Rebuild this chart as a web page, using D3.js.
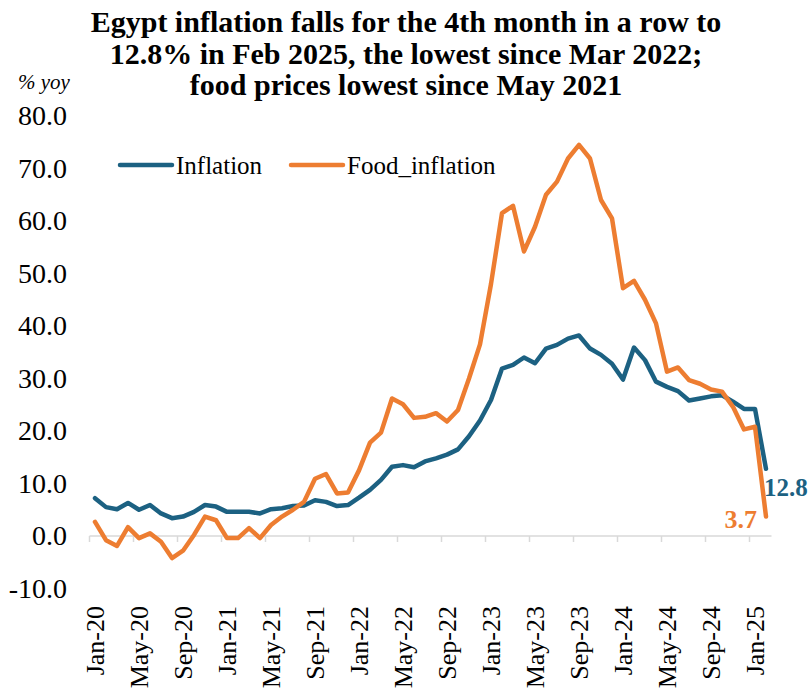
<!DOCTYPE html>
<html>
<head>
  <meta charset="UTF-8">
  <title>Egypt inflation</title>
  <script src="https://d3js.org/d3.v7.min.js"></script>
  <style>
    body {
      margin: 0;
      background: #fff;
      font-family: "Liberation Serif", "Times New Roman", serif;
    }
    .y-axis text {
      font-family: "Liberation Serif", "Times New Roman", serif;
      font-size: 28px;
      fill: #000;
    }
    .x-axis text {
      font-family: "Liberation Serif", "Times New Roman", serif;
      font-size: 26px;
      fill: #000;
    }
    .series {
      fill: none;
      stroke-width: 4.5;
      stroke-linejoin: round;
      stroke-linecap: round;
    }
  </style>
</head>
<body>
  <div id="chart"></div>
  <script>
    const months = [
      "Jan-20", "Feb-20", "Mar-20", "Apr-20", "May-20", "Jun-20", "Jul-20", "Aug-20", "Sep-20", "Oct-20", "Nov-20", "Dec-20",
      "Jan-21", "Feb-21", "Mar-21", "Apr-21", "May-21", "Jun-21", "Jul-21", "Aug-21", "Sep-21", "Oct-21", "Nov-21", "Dec-21",
      "Jan-22", "Feb-22", "Mar-22", "Apr-22", "May-22", "Jun-22", "Jul-22", "Aug-22", "Sep-22", "Oct-22", "Nov-22", "Dec-22",
      "Jan-23", "Feb-23", "Mar-23", "Apr-23", "May-23", "Jun-23", "Jul-23", "Aug-23", "Sep-23", "Oct-23", "Nov-23", "Dec-23",
      "Jan-24", "Feb-24", "Mar-24", "Apr-24", "May-24", "Jun-24", "Jul-24", "Aug-24", "Sep-24", "Oct-24", "Nov-24", "Dec-24",
      "Jan-25", "Feb-25"
    ];

    const inflation = [
      7.2, 5.5, 5.1, 6.3, 5.0, 5.9, 4.3, 3.4, 3.7, 4.6, 5.9, 5.6,
      4.6, 4.6, 4.6, 4.3, 5.1, 5.3, 5.7, 5.8, 6.8, 6.5, 5.7, 5.9,
      7.3, 8.8, 10.7, 13.2, 13.5, 13.1, 14.2, 14.8, 15.5, 16.5, 19.0, 22.0,
      25.9, 31.9, 32.6, 34.0, 32.9, 35.7, 36.4, 37.6, 38.2, 35.7, 34.5, 32.8,
      29.8, 35.9, 33.5, 29.4, 28.4, 27.6, 25.8, 26.2, 26.6, 26.8, 25.6, 24.2,
      24.2, 12.8
    ];

    const foodInflation = [
      2.7, -0.8, -1.9, 1.7, -0.4, 0.5, -1.1, -4.2, -2.8, 0.2, 3.7, 3.0,
      -0.4, -0.4, 1.5, -0.4, 2.1, 3.7, 5.0, 6.5, 10.9, 11.8, 8.1, 8.3,
      12.5, 17.8, 19.7, 26.2, 25.1, 22.5, 22.7, 23.4, 21.8, 24.0, 30.0, 36.5,
      48.0, 61.5, 62.9, 54.2, 58.9, 65.0, 67.5, 71.9, 74.5, 71.9, 64.0, 60.5,
      47.2, 48.6, 45.0, 40.5, 31.3, 32.1, 29.7, 29.0, 27.9, 27.5, 24.6, 20.3,
      20.8, 3.7
    ];

    const yTicks = [-10, 0, 10, 20, 30, 40, 50, 60, 70, 80];
    const titleLines = [
      "Egypt inflation falls for the 4th month in a row to",
      "12.8% in Feb 2025, the lowest since Mar 2022;",
      "food prices lowest since May 2021"
    ];
    const seriesNames = ["Inflation", "Food_inflation"];
    const colors = ["#1c6182", "#ed7d31"];

    const width = 811, height = 692;

    const svg = d3.select("#chart")
      .append("svg")
      .attr("width", width)
      .attr("height", height);

    const xScale = d3.scaleBand()
      .domain(months)
      .range([89.5, 771.5])
      .padding(0);

    const yScale = d3.scaleLinear()
      .domain([-10, 80])
      .range([588.5, 116]);

    const cx = d => xScale(d) + xScale.bandwidth() / 2;

    // title
    svg.append("g")
      .selectAll("text")
      .data(titleLines)
      .enter()
      .append("text")
      .attr("x", 406)
      .attr("y", (d, i) => 32 + i * 31.5)
      .attr("text-anchor", "middle")
      .style("font-size", "30px")
      .style("font-weight", "bold")
      .text(d => d);

    svg.append("text")
      .attr("x", 18)
      .attr("y", 89)
      .style("font-size", "21px")
      .style("font-style", "italic")
      .text("% yoy");

    // y axis, labels only
    const yAxis = d3.axisLeft(yScale)
      .tickValues(yTicks)
      .tickFormat(d => d.toFixed(1))
      .tickSize(0)
      .tickPadding(0);

    svg.append("g")
      .attr("class", "y-axis")
      .attr("transform", "translate(67, 0)")
      .call(yAxis)
      .call(g => g.select(".domain").remove());

    // zero line with ticks between categories
    const zeroY = yScale(0);
    svg.append("line")
      .attr("x1", xScale.range()[0])
      .attr("x2", xScale.range()[1])
      .attr("y1", zeroY)
      .attr("y2", zeroY)
      .attr("stroke", "#d9d9d9")
      .attr("stroke-width", 1.5);

    const labelMonths = months.filter((d, i) => i % 4 === 0);

    svg.selectAll(".xtick")
      .data(labelMonths)
      .enter()
      .append("line")
      .attr("class", "xtick")
      .attr("x1", d => xScale(d))
      .attr("x2", d => xScale(d))
      .attr("y1", zeroY)
      .attr("y2", zeroY + 6)
      .attr("stroke", "#d9d9d9")
      .attr("stroke-width", 1.5);

    const xAxis = d3.axisBottom(xScale)
      .tickValues(labelMonths)
      .tickSize(0);

    svg.append("g")
      .attr("class", "x-axis")
      .attr("transform", "translate(0, 606)")
      .call(xAxis)
      .call(g => g.select(".domain").remove())
      .selectAll("text")
      .attr("x", 0)
      .attr("y", 0)
      .attr("dy", "0.33em")
      .attr("transform", "rotate(-90)")
      .style("text-anchor", "end");

    // lines
    const line = d3.line()
      .x(d => cx(d.month))
      .y(d => yScale(d.value));

    [inflation, foodInflation].forEach((values, k) => {
      const data = months.map((m, i) => ({ month: m, value: values[i] }));
      svg.append("path")
        .datum(data)
        .attr("class", "series")
        .attr("stroke", colors[k])
        .attr("d", line);
    });

    // legend
    const legendX = [120, 291];
    seriesNames.forEach((name, k) => {
      svg.append("line")
        .attr("x1", legendX[k])
        .attr("x2", legendX[k] + 52)
        .attr("y1", 165)
        .attr("y2", 165)
        .attr("stroke", colors[k])
        .attr("stroke-width", 4.5)
        .attr("stroke-linecap", "round");
      svg.append("text")
        .attr("x", legendX[k] + 56)
        .attr("y", 174)
        .style("font-size", "25px")
        .text(name);
    });

    // end labels
    const last = months[months.length - 1];
    svg.append("text")
      .attr("x", cx(last) - 2)
      .attr("y", yScale(inflation[inflation.length - 1]) + 27)
      .style("font-size", "25px")
      .style("font-weight", "bold")
      .attr("fill", colors[0])
      .text(inflation[inflation.length - 1].toFixed(1));

    svg.append("text")
      .attr("x", cx(last) - 9)
      .attr("y", yScale(foodInflation[foodInflation.length - 1]) + 11)
      .attr("text-anchor", "end")
      .style("font-size", "26px")
      .style("font-weight", "bold")
      .attr("fill", colors[1])
      .text(foodInflation[foodInflation.length - 1].toFixed(1));
  </script>
</body>
</html>
